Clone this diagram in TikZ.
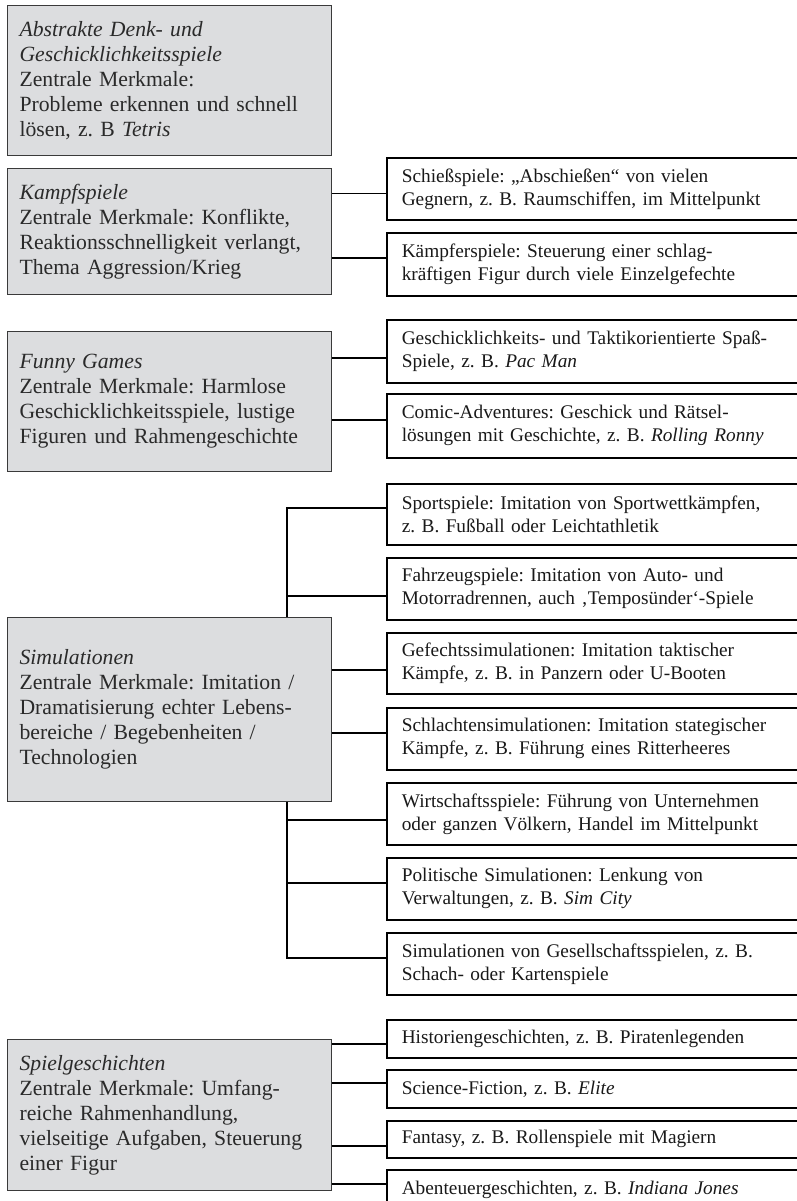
\documentclass[tikz,border=0pt]{standalone}
\usepackage{fontspec}
\setmainfont{Liberation Serif}
\frenchspacing
\definecolor{boxgray}{HTML}{DCDDDF}
\definecolor{boxedge}{HTML}{3A3A3A}
\definecolor{lefttext}{HTML}{2A2A2A}
\tikzset{
  leftbox/.style={draw=boxedge, fill=boxgray, line width=1.1pt, anchor=north west,
    minimum width=324pt, inner xsep=12pt, inner ysep=0pt, text width=300pt,
    align=left, font=\fontsize{21.7}{25}\selectfont, text=lefttext},
  rightbox/.style={draw=black, line width=1.6pt, anchor=north west, fill=white,
    minimum width=440pt, inner xsep=15pt, inner ysep=0pt, text width=410pt,
    align=left, font=\fontsize{19.3}{23}\selectfont, text=black!90},
  conn/.style={draw=black, line width=1.4pt}
}
\begin{document}
\begin{tikzpicture}[x=1pt,y=-1pt]
\useasboundingbox (0,0) rectangle (797,1201);
\fill[white] (0,0) rectangle (797,1201);

% left boxes
\node[leftbox, minimum height=150pt] (l1) at (7,5) {\textit{Abstrakte Denk- und}\\\textit{Geschicklichkeitsspiele}\\Zentrale Merkmale:\\Probleme erkennen und schnell\\lösen, z. B \textit{Tetris}};
\node[leftbox, minimum height=126pt] (l2) at (7,168) {\textit{Kampfspiele}\\Zentrale Merkmale: Konflikte,\\Reaktionsschnelligkeit verlangt,\\Thema Aggression/Krieg};
\node[leftbox, minimum height=140pt] (l3) at (7,331) {\textit{Funny Games}\\Zentrale Merkmale: Harmlose\\Geschicklichkeitsspiele, lustige\\Figuren und Rahmengeschichte};
\node[leftbox, minimum height=184pt] (l4) at (7,617) {\textit{Simulationen}\\Zentrale Merkmale: Imitation /\\Dramatisierung echter Lebens-\\bereiche / Begebenheiten /\\Technologien};
\node[leftbox, minimum height=151pt] (l5) at (7,1039) {\textit{Spielgeschichten}\\Zentrale Merkmale: Umfang-\\reiche Rahmenhandlung,\\vielseitige Aufgaben, Steuerung\\einer Figur};

% right boxes
\node[rightbox, minimum height=62pt] (r1) at (386,157) {Schießspiele: „Abschießen“ von vielen\\Gegnern, z. B. Raumschiffen, im Mittelpunkt};
\node[rightbox, minimum height=63pt] (r2) at (386,232) {Kämpferspiele: Steuerung einer schlag-\\kräftigen Figur durch viele Einzelgefechte};
\node[rightbox, minimum height=63pt] (r3) at (386,319) {Geschicklichkeits- und Taktikorientierte Spaß-\\Spiele, z. B. \textit{Pac Man}};
\node[rightbox, minimum height=64pt] (r4) at (386,393) {Comic-Adventures: Geschick und Rätsel-\\lösungen mit Geschichte, z. B. \textit{Rolling Ronny}};
\node[rightbox, minimum height=61pt] (r5) at (386,483) {Sportspiele: Imitation von Sportwettkämpfen,\\z. B. Fußball oder Leichtathletik};
\node[rightbox, minimum height=62pt] (r6) at (386,557) {Fahrzeugspiele: Imitation von Auto- und\\Motorradrennen, auch ‚Temposünder‘-Spiele};
\node[rightbox, minimum height=61pt] (r7) at (386,632) {Gefechtssimulationen: Imitation taktischer\\Kämpfe, z. B. in Panzern oder U-Booten};
\node[rightbox, minimum height=62pt] (r8) at (386,707) {Schlachtensimulationen: Imitation stategischer\\Kämpfe, z. B. Führung eines Ritterheeres};
\node[rightbox, minimum height=62pt] (r9) at (386,782) {Wirtschaftsspiele: Führung von Unternehmen\\oder ganzen Völkern, Handel im Mittelpunkt};
\node[rightbox, minimum height=62pt] (r10) at (386,857) {Politische Simulationen: Lenkung von\\Verwaltungen, z. B. \textit{Sim City}};
\node[rightbox, minimum height=62pt] (r11) at (386,932) {Simulationen von Gesellschaftsspielen, z. B.\\Schach- oder Kartenspiele};
\node[rightbox, minimum height=38pt] (r12) at (386,1019) {Historiengeschichten, z. B. Piratenlegenden};
\node[rightbox, minimum height=38pt] (r13) at (386,1069) {Science-Fiction, z. B. \textit{Elite}};
\node[rightbox, minimum height=37pt] (r14) at (386,1120) {Fantasy, z. B. Rollenspiele mit Magiern};
\node[rightbox, minimum height=40pt] (r15) at (386,1169) {Abenteuergeschichten, z. B. \textit{Indiana Jones}};

% connectors
\draw[conn] ([yshift=-5pt]r1.west) -- ([yshift=-5pt]r1.west -| l2.east);
\draw[conn] ([yshift=6.5pt]r2.west) -- ([yshift=6.5pt]r2.west -| l2.east);
\draw[conn] ([yshift=-6.5pt]r3.west) -- ([yshift=-6.5pt]r3.west -| l3.east);
\draw[conn] ([yshift=6pt]r4.west) -- ([yshift=6pt]r4.west -| l3.east);

\coordinate (trt) at ([xshift=-45pt]l4.north east);
\coordinate (trb) at ([xshift=-45pt]l4.south east);
\draw[conn] ([yshift=6.5pt]r5.west) -| (trt);
\draw[conn] ([yshift=-7pt]r6.west) -- ([yshift=-7pt]r6.west -| trt);
\draw[conn] ([yshift=-6.5pt]r7.west) -- ([yshift=-6.5pt]r7.west -| l4.east);
\draw[conn] ([yshift=6pt]r8.west) -- ([yshift=6pt]r8.west -| l4.east);
\draw[conn] (trb) |- ([yshift=6pt]r11.west);
\draw[conn] ([yshift=-6pt]r9.west) -- ([yshift=-6pt]r9.west -| trb);
\draw[conn] ([yshift=6pt]r10.west) -- ([yshift=6pt]r10.west -| trb);

\draw[conn] ([yshift=-5pt]r12.west) -- ([yshift=-5pt]r12.west -| l5.east);
\draw[conn] ([yshift=6pt]r13.west) -- ([yshift=6pt]r13.west -| l5.east);
\draw[conn] ([yshift=-6.5pt]r14.west) -- ([yshift=-6.5pt]r14.west -| l5.east);
\draw[conn] ([yshift=6pt]r15.west) -- ([yshift=6pt]r15.west -| l5.east);
\end{tikzpicture}
\end{document}
